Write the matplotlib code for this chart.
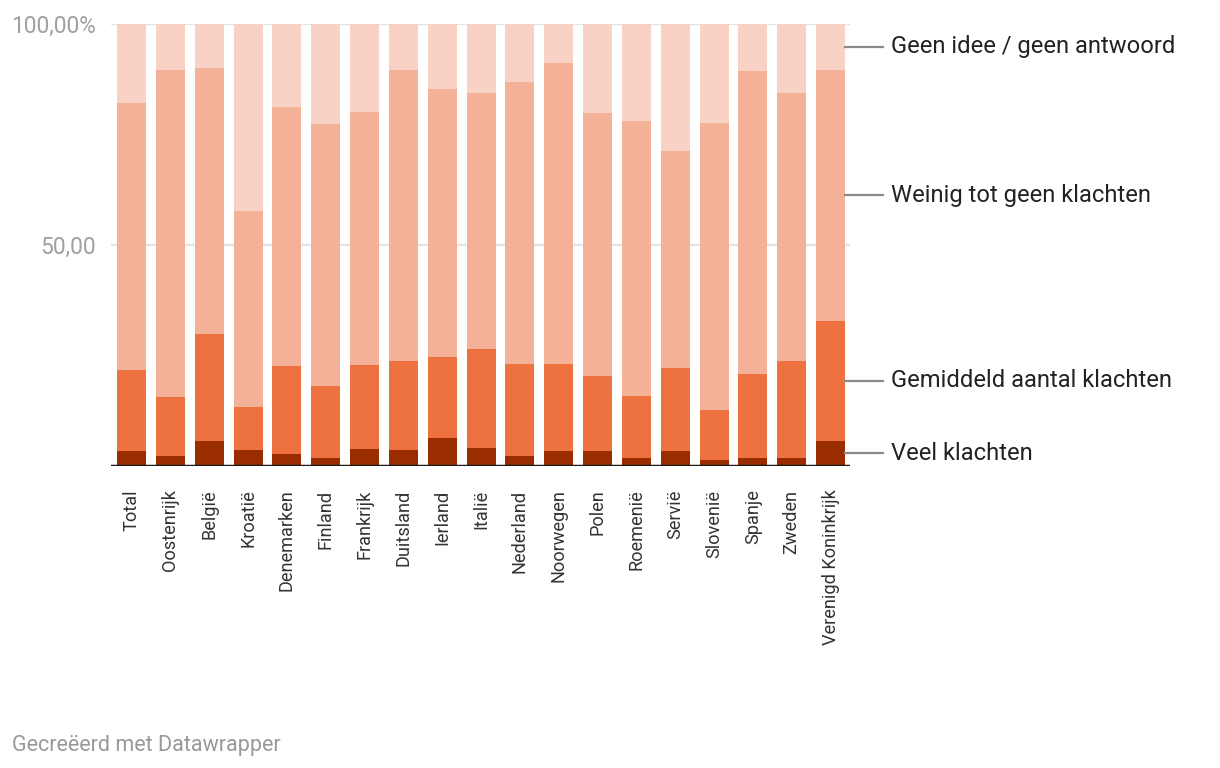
import matplotlib.pyplot as plt
import matplotlib.transforms as mtransforms
import numpy as np

plt.rcParams['font.family'] = ['Roboto', 'DejaVu Sans']

countries = ['Total', 'Oostenrijk', 'België', 'Kroatië', 'Denemarken', 'Finland',
             'Frankrijk', 'Duitsland', 'Ierland', 'Italië', 'Nederland', 'Noorwegen',
             'Polen', 'Roemenië', 'Servië', 'Slovenië', 'Spanje', 'Zweden',
             'Verenigd Koninkrijk']

veel = [3.4, 2.3, 5.7, 3.6, 2.7, 1.8, 3.9, 3.6, 6.3, 4.1,
        2.3, 3.4, 3.4, 1.8, 3.4, 1.4, 1.8, 1.8, 5.7]
gemiddeld = [18.4, 13.3, 24.2, 9.8, 20.0, 16.3, 19.0, 20.2, 18.4, 22.4,
             20.8, 19.7, 17.0, 14.1, 18.8, 11.3, 19.1, 22.0, 27.2]
weinig = [60.3, 74.0, 60.1, 44.2, 58.5, 59.2, 57.1, 65.8, 60.6, 57.9,
          63.7, 68.1, 59.4, 62.1, 49.0, 64.9, 68.4, 60.6, 56.7]
geen_idee = [17.9, 10.4, 10.0, 42.4, 18.8, 22.7, 20.0, 10.4, 14.7, 15.6,
             13.2, 8.8, 20.2, 22.0, 28.8, 22.4, 10.7, 15.6, 10.4]

series = [
    ('Veel klachten', veel, '#992d00'),
    ('Gemiddeld aantal klachten', gemiddeld, '#ee7240'),
    ('Weinig tot geen klachten', weinig, '#f3b297'),
    ('Geen idee / geen antwoord', geen_idee, '#f8d2c5'),
]

W, H = 1220, 768
fig = plt.figure(figsize=(W / 100, H / 100), dpi=100)
ax = fig.add_axes([111 / W, (H - 466) / H, (850 - 111) / W, (466 - 24) / H])

x = np.arange(len(countries))
bottom = np.zeros(len(countries))
for name, vals, color in series:
    vals = np.array(vals)
    ax.bar(x, vals, bottom=bottom, width=0.75, color=color, zorder=2)
    bottom += vals

ax.set_xlim(-0.53, len(countries) - 0.5)
ax.set_ylim(0, 100)

for y in (50, 100):
    ax.axhline(y, color='#e3e3e3', lw=1.6, zorder=1)
ax.axhline(0, color='#1a1a1a', lw=2.5, zorder=3)

for s in ax.spines.values():
    s.set_visible(False)

ax.set_yticks([50, 100])
ax.set_yticklabels(['50,00', '100,00%'])
ax.tick_params(axis='y', length=0, pad=11, labelsize=16.4, labelcolor='#a0a0a0')
ax.set_xticks(x)
ax.set_xticklabels(countries, rotation=90)
ax.tick_params(axis='x', length=0, pad=17, labelsize=13.1, labelcolor='#333333')

# labels to the right of the last bar
trans = mtransforms.blended_transform_factory(ax.transAxes, ax.transData)
last = len(countries) - 1
start = 0.0
for name, vals, color in series:
    mid = start + vals[last] / 2
    start += vals[last]
    ax.plot([0.993, 1.045], [mid, mid], color='#8a8a8a', lw=1.6,
            transform=trans, clip_on=False, zorder=4)
    ax.text(1.055, mid, name, transform=trans, va='center', ha='left',
            fontsize=17.1, color='#222222')

fig.text(12 / W, 1 - 745 / H, 'Gecreëerd met Datawrapper', fontsize=15.5,
         color='#999999', va='center', ha='left')

fig.savefig('out.png', dpi=100)
